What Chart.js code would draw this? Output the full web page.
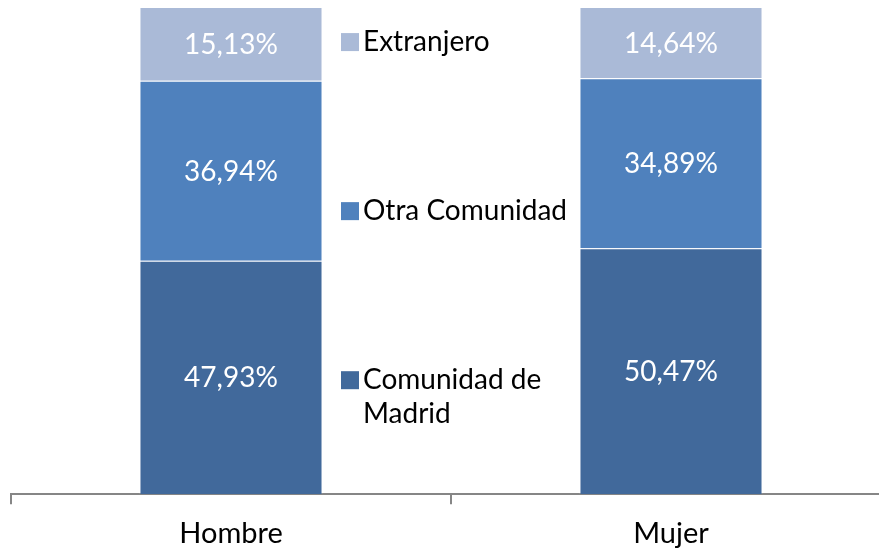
<!DOCTYPE html>
<html><head><meta charset="utf-8">
<script src="https://cdn.jsdelivr.net/npm/chart.js@4"></script>
<style>
html,body{margin:0;padding:0;background:#fff;overflow:hidden;width:879px;height:553px;}
#wrap{position:relative;width:892px;height:563px;}
</style></head>
<body>
<div id="wrap"><canvas id="c"></canvas></div>
<script>
const categories = ['Hombre', 'Mujer'];
const seriesNames = ['Comunidad de Madrid', 'Otra Comunidad', 'Extranjero'];
const legendLines = [['Comunidad de', 'Madrid'], ['Otra Comunidad'], ['Extranjero']];
const madrid = [47.93, 50.47];
const otra = [36.94, 34.89];
const extranjero = [15.13, 14.64];
const colors = ['#41699B', '#4F81BD', '#AABAD7'];

const FONT = 'Lato, "Open Sans", sans-serif';

const labelPlugin = {
  id: 'barLabels',
  afterDatasetsDraw(chart) {
    const ctx = chart.ctx;
    ctx.save();
    ctx.font = '28px ' + FONT;
    ctx.fillStyle = '#ffffff';
    ctx.textAlign = 'center';
    ctx.textBaseline = 'middle';
    chart.data.datasets.forEach((ds, di) => {
      const meta = chart.getDatasetMeta(di);
      meta.data.forEach((el, i) => {
        const v = ds.data[i];
        const txt = v.toFixed(2).replace('.', ',') + '%';
        const y = (el.y + el.base) / 2;
        ctx.fillText(txt, el.x, y + 1);
      });
    });
    ctx.restore();
  }
};

const legendPlugin = {
  id: 'midLegend',
  afterDraw(chart) {
    const ctx = chart.ctx;
    const a = chart.chartArea;
    const h = a.bottom - a.top;
    const x0 = (chart.getDatasetMeta(0).data[0].x + chart.getDatasetMeta(0).data[1].x) / 2 - 110;
    ctx.save();
    ctx.font = '28px ' + FONT;
    ctx.textBaseline = 'middle';
    ctx.textAlign = 'left';
    const n = chart.data.datasets.length;
    for (let k = 0; k < n; k++) {
      const di = n - 1 - k;
      const y = a.top + h * 0.072 + k * h * 0.347;
      ctx.fillStyle = chart.data.datasets[di].backgroundColor;
      ctx.fillRect(x0, y - 9, 18, 18);
      ctx.fillStyle = '#000000';
      legendLines[di].forEach((line, li) => {
        ctx.fillText(line, x0 + 22, y + li * 34);
      });
    }
    ctx.restore();
  }
};

new Chart(document.getElementById('c'), {
  type: 'bar',
  data: {
    labels: categories,
    datasets: [
      { label: seriesNames[0], data: madrid, backgroundColor: colors[0] },
      { label: seriesNames[1], data: otra, backgroundColor: colors[1] },
      { label: seriesNames[2], data: extranjero, backgroundColor: colors[2] }
    ]
  },
  options: {
    responsive: true,
    maintainAspectRatio: false,
    animation: false,
    datasets: { bar: { categoryPercentage: 1, barPercentage: 0.416, borderWidth: 1, borderColor: 'rgba(255,255,255,0.25)', borderSkipped: 'bottom' } },
    layout: { padding: { left: 11, right: 1, top: 7, bottom: 0 } },
    plugins: { legend: { display: false }, tooltip: { enabled: false } },
    scales: {
      x: {
        stacked: true,
        offset: true,
        border: { display: true, color: '#868686', width: 2 },
        grid: { display: true, offset: true, drawOnChartArea: false, drawTicks: true, tickLength: 10, color: '#868686', lineWidth: 2 },
        ticks: { color: '#000', font: { family: FONT, size: 29 }, padding: 12 }
      },
      y: {
        stacked: true, display: false, min: 0, max: 100
      }
    }
  },
  plugins: [labelPlugin, legendPlugin]
});
</script>
</body></html>
